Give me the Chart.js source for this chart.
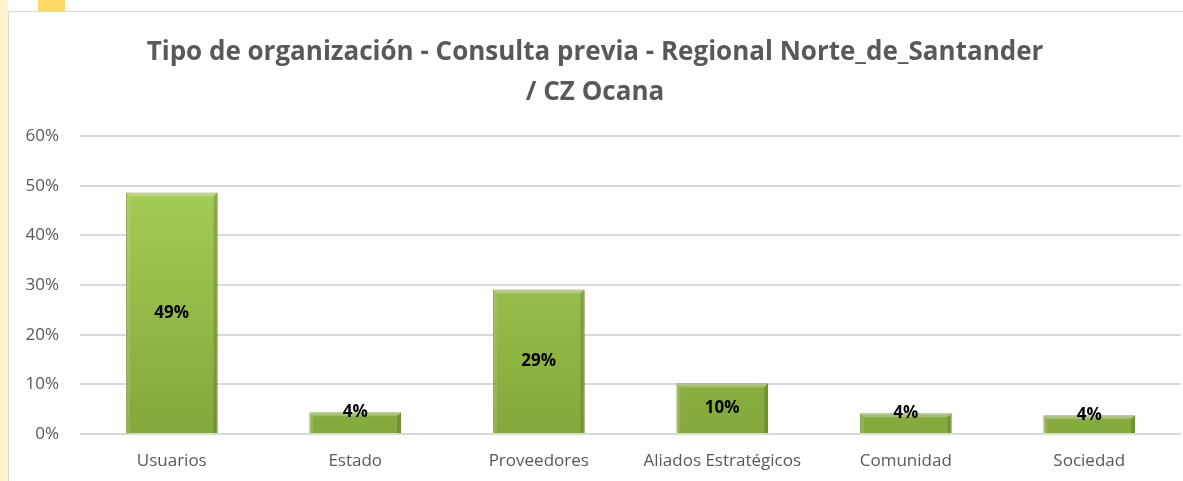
<!DOCTYPE html>
<html>
<head>
<meta charset="utf-8">
<script src="https://cdn.jsdelivr.net/npm/chart.js@4"></script>
<style>
  html, body { margin: 0; padding: 0; background: #fff; }
  body { width: 1183px; height: 481px; position: relative; overflow: hidden; }
  .strip { position: absolute; left: 0; top: 0; width: 8px; height: 481px; background: #fff2cc; }
  .tab { position: absolute; left: 38px; top: 0; width: 27px; height: 11px; background: #ffd966; }
  .frame { position: absolute; left: 8px; top: 11px; width: 1180px; height: 480px; border: 1px solid #d9d9d9; background: #fff; }
  .box { position: absolute; left: 9px; top: 12px; width: 1174px; height: 469px; }
</style>
</head>
<body>
<div class="strip"></div>
<div class="tab"></div>
<div class="frame"></div>
<div class="box"><canvas id="chart"></canvas></div>
<script>
// categories and values
const categories = ['Usuarios', 'Estado', 'Proveedores', 'Aliados Estratégicos', 'Comunidad', 'Sociedad'];
const shares = [48.6, 4.4, 29.1, 10.2, 4.2, 3.8];
const shareLabels = ['49%', '4%', '29%', '10%', '4%', '4%'];
const yTicks = [0, 10, 20, 30, 40, 50, 60];

const FONT = "'Open Sans', sans-serif";

function barFill(context) {
    const chart = context.chart;
    const area = chart.chartArea;
    if (!area) return '#9bc34b';
    const g = chart.ctx.createLinearGradient(0, area.top, 0, area.bottom);
    g.addColorStop(0, '#abd35b');
    g.addColorStop(1, '#83a83b');
    return g;
}

// value labels: centred in the bar, pushed to the top for short bars
const valueLabels = {
    id: 'valueLabels',
    afterDatasetsDraw(chart) {
        const ctx = chart.ctx;
        const meta = chart.getDatasetMeta(0);
        ctx.save();
        ctx.font = 'bold 17px ' + FONT;
        ctx.fillStyle = '#000';
        ctx.textAlign = 'center';
        ctx.textBaseline = 'middle';
        meta.data.forEach((bar, i) => {
            const h = bar.base - bar.y;
            const y = h < 30 ? bar.y : bar.y + h / 2;
            ctx.fillText(shareLabels[i], bar.x, y);
        });
        ctx.restore();
    }
};

// a light bevel on each bar
const bevel = {
    id: 'bevel',
    afterDatasetsDraw(chart) {
        const ctx = chart.ctx;
        const meta = chart.getDatasetMeta(0);
        ctx.save();
        meta.data.forEach(bar => {
            const l = bar.x - bar.width / 2, r = bar.x + bar.width / 2;
            const t = bar.y, b = bar.base;
            const e = 4;
            ctx.fillStyle = 'rgba(255,255,255,0.25)';
            ctx.beginPath();
            ctx.moveTo(l, t); ctx.lineTo(r, t); ctx.lineTo(r - e, t + e); ctx.lineTo(l + e, t + e); ctx.closePath();
            ctx.fill();
            ctx.fillStyle = 'rgba(255,255,255,0.12)';
            ctx.beginPath();
            ctx.moveTo(l, t); ctx.lineTo(l + e, t + e); ctx.lineTo(l + e, b); ctx.lineTo(l, b); ctx.closePath();
            ctx.fill();
            ctx.fillStyle = 'rgba(60,80,20,0.25)';
            ctx.beginPath();
            ctx.moveTo(r, t); ctx.lineTo(r, b); ctx.lineTo(r - e, b); ctx.lineTo(r - e, t + e); ctx.closePath();
            ctx.fill();
        });
        ctx.restore();
    }
};

new Chart(document.getElementById('chart'), {
    type: 'bar',
    data: {
        labels: categories,
        datasets: [{
            data: shares,
            backgroundColor: barFill,
            borderColor: '#6e8f2e',
            borderWidth: 1,
            categoryPercentage: 1,
            barPercentage: 0.5
        }]
    },
    options: {
        responsive: true,
        maintainAspectRatio: false,
        animation: false,
        layout: { padding: { left: 0, right: 2, bottom: 0 } },
        scales: {
            y: {
                min: 0,
                max: 60,
                afterBuildTicks: s => { s.ticks = yTicks.map(v => ({ value: v })); },
                afterFit: s => { s.width = 71; },
                border: { display: false },
                grid: { color: '#d9d9d9', lineWidth: 2, drawTicks: false },
                ticks: { color: '#595959', padding: 21, font: { family: FONT, size: 17 }, callback: v => v + '%' }
            },
            x: {
                afterFit: s => { s.height = 47; },
                border: { display: false },
                grid: { display: false, drawTicks: false },
                ticks: { color: '#595959', padding: 17, font: { family: FONT, size: 17 } }
            }
        },
        plugins: {
            legend: { display: false },
            tooltip: { enabled: false },
            title: {
                display: true,
                text: ['Tipo de organización - Consulta previa - Regional Norte_de_Santander', '/ CZ Ocana'],
                color: '#595959',
                font: { family: FONT, size: 26, weight: 'bold', lineHeight: '40px' },
                padding: { top: 21, bottom: 23 }
            }
        }
    },
    plugins: [bevel, valueLabels]
});
</script>
</body>
</html>
